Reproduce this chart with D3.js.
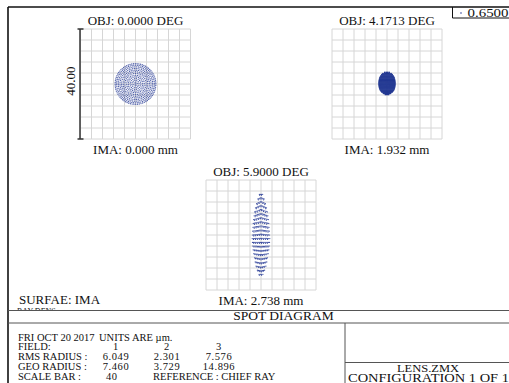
<!DOCTYPE html>
<html>
<head>
<meta charset="utf-8">
<script src="https://cdn.jsdelivr.net/npm/d3@7/dist/d3.min.js"></script>
<style>
  body { margin: 0; background: #fff; }
  svg text { font-family: "Liberation Serif", "Times New Roman", serif; fill: #111; }
</style>
</head>
<body>
<svg id="chart" width="509" height="383"></svg>
<script>
// values
var fields = ["1", "2", "3"];
var objAngles = ["0.0000", "4.1713", "5.9000"];
var imaHeights = ["0.000", "1.932", "2.738"];
var rmsRadius = ["6.049", "2.301", "7.576"];
var geoRadius = ["7.460", "3.729", "14.896"];
var scaleBar = "40";
var scaleLabel = "40.00";
var wavelength = "0.6500";
var gridTicks = [-20, -16, -12, -8, -4, 0, 4, 8, 12, 16, 20];

// field 1: hexapolar rings, radius (um) and ray count
var ring1Radius = [0, 0.65, 1.3, 1.95, 2.6, 3.2, 3.85, 4.45, 5.05, 5.65, 6.25, 6.85, 7.4];
var ring1Count  = [1, 6, 12, 18, 24, 30, 36, 42, 48, 54, 60, 66, 72];

// field 2: rows of the compact blob, y (um), half width (um), ray count
var row2Y    = [4.2, 3.8, 3.4, 3.0, 2.6, 2.2, 1.8, 1.4, 1.0, 0.6, 0.2, -0.2, -0.6, -1.0, -1.4, -1.8, -2.2, -2.6, -3.0, -3.4, -3.8];
var row2Half = [0.8, 1.5, 1.9, 2.2, 2.4, 2.6, 2.7, 2.8, 2.85, 2.9, 2.9, 2.9, 2.85, 2.8, 2.7, 2.6, 2.4, 2.1, 1.8, 1.3, 0.6];
var row2Dots = [4, 8, 11, 13, 14, 15, 16, 16, 17, 17, 17, 17, 17, 16, 16, 15, 14, 12, 10, 8, 4];

// field 3: chevron rows of the long spot, y (um), half width (um), ray count, sag (um)
var row3Y    = [14.8, 13.6, 12.2, 10.8, 9.3, 7.8, 6.3, 4.8, 3.3, 1.8, 0.3, -1.2, -2.7, -4.2, -5.7, -7.2, -8.7, -10.2, -11.7, -13.1, -14.3];
var row3Half = [0.6, 1.1, 1.6, 2.0, 2.3, 2.5, 2.7, 2.8, 2.9, 3.0, 3.1, 3.2, 3.1, 3.0, 2.85, 2.6, 2.35, 2.1, 1.8, 1.3, 0.7];
var row3Dots = [4, 7, 9, 11, 12, 13, 14, 14, 15, 15, 16, 16, 16, 15, 15, 14, 13, 12, 10, 8, 4];
var row3Sag  = [0, 0.5, 0.8, 0.9, 0.9, 0.8, 0.7, 0.6, 0.5, 0.4, 0.3, 0.1, 0, -0.2, -0.3, -0.4, -0.4, -0.4, -0.4, -0.3, 0];

var svg = d3.select("#chart");
var ink = "#111", lineCol = "#555", gridCol = "#d6d6d6", dotCol = "#2a3e98";
var gridSize = 110;

var panels = [
  { left: 80.5, top: 29, r: 0.68, op: 0.8, dots: ringDots(ring1Radius, ring1Count) },
  { left: 332, top: 29, r: 0.85, op: 0.95, dots: rowDots(row2Y, row2Half, row2Dots, null, 0) },
  { left: 206, top: 180, r: 0.62, op: 0.9, dots: rowDots(row3Y, row3Half, row3Dots, row3Sag, 0.32) }
];

function ringDots(rad, cnt) {
  var pts = [];
  rad.forEach(function(r, i) {
    for (var k = 0; k < cnt[i]; k++) {
      var a = 2 * Math.PI * k / cnt[i] + i * 0.35;
      pts.push([r * Math.cos(a), r * Math.sin(a)]);
    }
  });
  return pts;
}

function rowDots(ys, hws, ns, sags, dbl) {
  var pts = [];
  ys.forEach(function(y, i) {
    var n = ns[i], s = sags ? sags[i] : 0;
    for (var k = 0; k < n; k++) {
      var t = n == 1 ? 0 : -1 + 2 * k / (n - 1);
      pts.push([t * hws[i], y - s * Math.abs(t)]);
      if (dbl && k % 2 == 0) pts.push([t * hws[i] * 0.85, y - dbl - s * Math.abs(t)]);
    }
  });
  return pts;
}

// outer frame
svg.append("line").attr("x1", 8).attr("x2", 8).attr("y1", 7).attr("y2", 383).attr("stroke", ink).attr("stroke-width", 1.6);
svg.append("line").attr("x1", 8).attr("x2", 509).attr("y1", 7).attr("y2", 7).attr("stroke", ink).attr("stroke-width", 1.4);

panels.forEach(function(p, i) {
  var x = d3.scaleLinear().domain([-20, 20]).range([p.left, p.left + gridSize]);
  var y = d3.scaleLinear().domain([-20, 20]).range([p.top + gridSize, p.top]);
  var g = svg.append("g");

  g.selectAll(".gx").data(gridTicks).enter().append("line")
    .attr("x1", function(d) { return x(d); }).attr("x2", function(d) { return x(d); })
    .attr("y1", y(-20)).attr("y2", y(20)).attr("stroke", gridCol).attr("stroke-width", 1);
  g.selectAll(".gy").data(gridTicks).enter().append("line")
    .attr("y1", function(d) { return y(d); }).attr("y2", function(d) { return y(d); })
    .attr("x1", x(-20)).attr("x2", x(20)).attr("stroke", gridCol).attr("stroke-width", 1);

  g.selectAll("circle").data(p.dots).enter().append("circle")
    .attr("cx", function(d) { return x(d[0]); })
    .attr("cy", function(d) { return y(d[1]); })
    .attr("r", p.r)
    .attr("fill", i == 1 ? "#1f3590" : dotCol)
    .attr("fill-opacity", p.op);

  g.append("text").attr("x", x(0)).attr("y", p.top - 4).attr("text-anchor", "middle")
    .attr("font-size", 13).text("OBJ: " + objAngles[i] + " DEG");
  g.append("text").attr("x", x(0)).attr("y", p.top + gridSize + 14.5).attr("text-anchor", "middle")
    .attr("font-size", 13).text("IMA: " + imaHeights[i] + " mm");

  if (i == 0) {
    // scale bar
    g.append("line").attr("x1", x(-20) - 0.5).attr("x2", x(-20) - 0.5).attr("y1", y(-20)).attr("y2", y(20))
      .attr("stroke", "#333").attr("stroke-width", 1.5);
    [-20, 20].forEach(function(v) {
      g.append("line").attr("x1", x(-20) - 3).attr("x2", x(-20) + 3).attr("y1", y(v)).attr("y2", y(v))
        .attr("stroke", "#333").attr("stroke-width", 1.5);
    });
    g.append("text").attr("transform", "translate(" + (x(-20) - 6) + "," + (y(0) - 3) + ") rotate(-90)")
      .attr("text-anchor", "middle").attr("font-size", 13).text(scaleLabel);
  }
});

// wavelength legend box
svg.append("path").attr("d", "M452.5,7V18H509").attr("fill", "none").attr("stroke", ink).attr("stroke-width", 1);
svg.append("circle").attr("cx", 461).attr("cy", 13).attr("r", 0.8).attr("fill", dotCol);
svg.append("text").attr("x", 467.5).attr("y", 16.5).attr("font-size", 13)
  .attr("textLength", 41).attr("lengthAdjust", "spacingAndGlyphs").text(wavelength);

// footer
svg.append("text").attr("x", 19).attr("y", 304).attr("font-size", 13).text("SURFAE: IMA");
svg.append("text").attr("x", 17).attr("y", 313.5).attr("font-size", 8).text("RAY DENS");
svg.append("rect").attr("x", 9).attr("y", 310.5).attr("width", 500).attr("height", 73).attr("fill", "#fff");
svg.append("line").attr("x1", 8).attr("x2", 509).attr("y1", 310.5).attr("y2", 310.5).attr("stroke", lineCol);
svg.append("line").attr("x1", 8).attr("x2", 509).attr("y1", 323).attr("y2", 323).attr("stroke", lineCol);
svg.append("line").attr("x1", 345).attr("x2", 345).attr("y1", 323).attr("y2", 383).attr("stroke", lineCol);
svg.append("line").attr("x1", 345).attr("x2", 509).attr("y1", 362.5).attr("y2", 362.5).attr("stroke", lineCol);
svg.append("text").attr("x", 283.5).attr("y", 320).attr("text-anchor", "middle").attr("font-size", 13.5).text("SPOT DIAGRAM");

var fs = 10.5, rowY = [340.5, 350.4, 360.3, 370.2, 380.1];
var colX = [116, 167, 219];
var foot = svg.append("g").attr("font-size", fs);
foot.append("text").attr("x", 18).attr("y", rowY[0]).text("FRI OCT 20 2017");
foot.append("text").attr("x", 99).attr("y", rowY[0]).text("UNITS ARE \u00b5m.");
foot.append("text").attr("x", 18).attr("y", rowY[1]).text("FIELD:");
foot.append("text").attr("x", 18).attr("y", rowY[2]).text("RMS RADIUS :");
foot.append("text").attr("x", 18).attr("y", rowY[3]).text("GEO RADIUS :");
foot.append("text").attr("x", 18).attr("y", rowY[4]).text("SCALE BAR   :");
[fields, rmsRadius, geoRadius].forEach(function(arr, r) {
  foot.selectAll(".c" + r).data(arr).enter().append("text")
    .attr("x", function(d, j) { return colX[j]; }).attr("y", rowY[r + 1])
    .attr("text-anchor", "middle").attr("letter-spacing", 0.6).text(function(d) { return d; });
});
foot.append("text").attr("x", colX[0] - 10).attr("y", rowY[4]).attr("letter-spacing", 0.6).text(scaleBar);
foot.append("text").attr("x", 153).attr("y", rowY[4]).text("REFERENCE : CHIEF RAY");

svg.append("text").attr("x", 428).attr("y", 371.5).attr("text-anchor", "middle").attr("font-size", 10.5)
  .attr("textLength", 62).attr("lengthAdjust", "spacingAndGlyphs").text("LENS.ZMX");
svg.append("text").attr("x", 348).attr("y", 381.5).attr("font-size", 12)
  .attr("textLength", 161).attr("lengthAdjust", "spacingAndGlyphs").text("CONFIGURATION  1  OF  1");
</script>
</body>
</html>
